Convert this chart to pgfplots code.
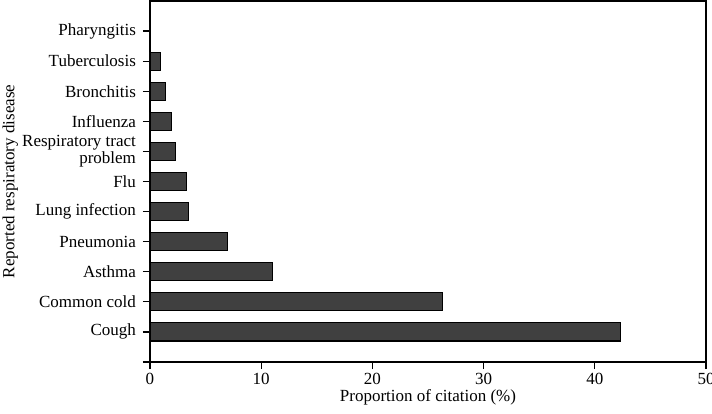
\documentclass[border=0pt]{standalone}
\usepackage{fontspec}
\setmainfont{Liberation Serif}
\usepackage{pgfplots}
\pgfplotsset{compat=1.18}
\definecolor{barColor}{RGB}{64, 64, 64}

\begin{document}
\begin{tikzpicture}
    \begin{axis}[
        name=ax,
        scale only axis,
        width=278pt,
        height=180.5pt,
        xmin=0, xmax=50,
        ymin=0, ymax=12,
        xtick={0,10,...,50},
        ytick={0,...,11},
        yticklabels={,Cough,Common cold,Asthma,Pneumonia,Lung infection,Flu,{Respiratory tract\\problem},Influenza,Bronchitis,Tuberculosis,Pharyngitis},
        yticklabel style={align=right, font=\fontsize{8.5}{8.7}\selectfont},
        xticklabel style={font=\fontsize{8.5}{9}\selectfont, yshift=1.5pt},
        /pgf/number format/assume math mode=true,
        tick align=outside,
        major tick length=3.5pt,
        tick style={black, line width=0.6pt},
        xtick pos=bottom,
        ytick pos=left,
        axis line style={black, line width=0.6pt},
        xlabel={Proportion of citation (\%)},
        ylabel={Reported respiratory disease},
        label style={font=\fontsize{8.5}{9}\selectfont},
        xlabel style={yshift=4.5pt},
        ylabel style={at={(axis description cs:-0.266,0.5)}, anchor=north, inner sep=0pt},
    ]
    \addplot[xbar, bar width=0.6, fill=barColor, draw=black, line width=0.6pt] coordinates {
        (42.3,1) (26.3,2) (11.0,3) (7.0,4) (3.46,5) (3.28,6)
        (2.26,7) (1.96,8) (1.36,9) (0.96,10) (0,11)
    };
    \end{axis}
    \pgfresetboundingbox
    \path[use as bounding box] ([shift={(-75pt,-25.5pt)}]ax.south west) rectangle ([shift={(3pt,0.5pt)}]ax.north east);
\end{tikzpicture}
\end{document}
